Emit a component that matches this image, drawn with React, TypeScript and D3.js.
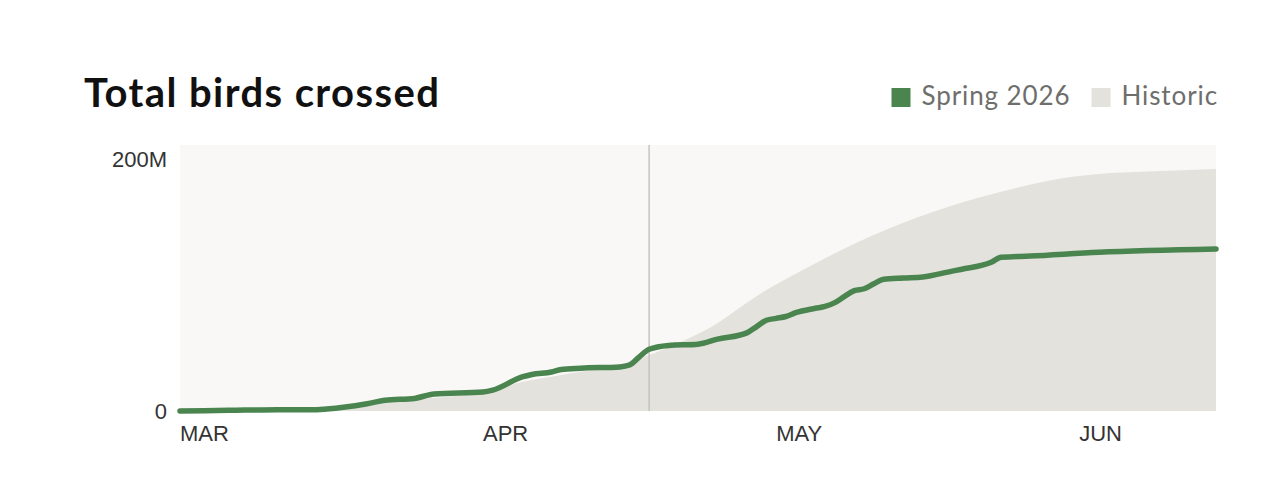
import React, { useRef, useEffect } from 'react';
import * as d3 from 'd3';

// Spring 2026 cumulative birds (millions)
const springDates = [
  '2026-03-01', '2026-03-06', '2026-03-11', '2026-03-15', '2026-03-16', '2026-03-20',
  '2026-03-22', '2026-03-25', '2026-03-27', '2026-04-01', '2026-04-02', '2026-04-05',
  '2026-04-06', '2026-04-08', '2026-04-09', '2026-04-11', '2026-04-15', '2026-04-16',
  '2026-04-17', '2026-04-18', '2026-04-20', '2026-04-23', '2026-04-25', '2026-04-28',
  '2026-04-29', '2026-04-30', '2026-05-01', '2026-05-02', '2026-05-03', '2026-05-05',
  '2026-05-06', '2026-05-07', '2026-05-08', '2026-05-09', '2026-05-10', '2026-05-11',
  '2026-05-12', '2026-05-14', '2026-05-16', '2026-05-19', '2026-05-20', '2026-05-23',
  '2026-05-24', '2026-05-27', '2026-06-03', '2026-06-15',
];
const springValues = [
  0, 0.5, 1, 1, 1.5, 5.5,
  8.5, 10, 13.5, 15, 16.5, 27,
  29, 31, 33, 34, 35, 36.5,
  43, 49, 52, 53, 57, 62,
  67, 72, 73.5, 75, 78, 81.5,
  83, 86, 91, 95.5, 97, 101,
  104.5, 105.5, 106.3, 111, 112.5, 118,
  122, 123, 126, 128.6,
];

// Historic average cumulative birds (millions)
const historicDates = [
  '2026-03-01', '2026-03-11', '2026-03-16', '2026-03-23', '2026-04-01', '2026-04-05',
  '2026-04-09', '2026-04-16', '2026-04-21', '2026-04-24', '2026-04-28', '2026-04-30',
  '2026-05-03', '2026-05-12', '2026-05-19', '2026-05-24', '2026-05-29', '2026-06-03',
  '2026-06-08', '2026-06-15',
];
const historicValues = [
  0, 0.5, 2, 8, 15, 23,
  28.5, 39, 54, 65, 86, 96,
  109, 143, 163, 174, 183, 188,
  190, 192,
];

const monthTicks = ['2026-03-01', '2026-04-01', '2026-05-01', '2026-06-01'];
const monthLabels = ['MAR', 'APR', 'MAY', 'JUN'];
const yTicks = [0, 200];
const yTickLabels = ['0', '200M'];
const domainStart = '2026-03-01';
const domainEnd = '2026-06-15';
const todayDate = '2026-04-18';

const legendItems = ['Spring 2026', 'Historic'];

const GREEN = '#4a854f';
const HISTORIC = '#e3e2dd';
const PLOT_BG = '#f9f8f6';

type Point = { date: Date; value: number };

const App: React.FC = () => {
  const svgRef = useRef<SVGSVGElement>(null);
  const width = 1280;
  const height = 489;

  useEffect(() => {
    document.body.style.margin = '0';
    if (!svgRef.current) return;

    const svg = d3.select(svgRef.current);
    svg.selectAll('*').remove();

    const parse = d3.utcParse('%Y-%m-%d');
    const spring: Point[] = springDates.map((d, i) => ({ date: parse(d)!, value: springValues[i] }));
    const historic: Point[] = historicDates.map((d, i) => ({ date: parse(d)!, value: historicValues[i] }));

    const margin = { left: 180, right: 64, top: 145, bottom: 78 };
    const xScale = d3.scaleUtc()
      .domain([parse(domainStart)!, parse(domainEnd)!])
      .range([margin.left, width - margin.right]);

    // 200M tick sits a bit below the top of the plot background
    const yScale = d3.scaleLinear()
      .domain([0, 200])
      .range([height - margin.bottom, margin.top + 14]);

    const plotTop = margin.top;
    const plotBottom = yScale(0);

    // Plot background
    svg.append('rect')
      .attr('x', xScale.range()[0])
      .attr('y', plotTop)
      .attr('width', xScale.range()[1] - xScale.range()[0])
      .attr('height', plotBottom - plotTop)
      .attr('fill', PLOT_BG);

    // Historic area
    const area = d3.area<Point>()
      .x(d => xScale(d.date))
      .y0(plotBottom)
      .y1(d => yScale(d.value))
      .curve(d3.curveMonotoneX);

    svg.append('path')
      .datum(historic)
      .attr('fill', HISTORIC)
      .attr('d', area);

    // Today marker
    const tx = xScale(parse(todayDate)!);
    svg.append('line')
      .attr('x1', tx)
      .attr('x2', tx)
      .attr('y1', plotTop)
      .attr('y2', plotBottom)
      .attr('stroke', '#c4c3be')
      .attr('stroke-width', 1.5);

    // Spring 2026 line
    const line = d3.line<Point>()
      .x(d => xScale(d.date))
      .y(d => yScale(d.value))
      .curve(d3.curveMonotoneX);

    svg.append('path')
      .datum(spring)
      .attr('fill', 'none')
      .attr('stroke', GREEN)
      .attr('stroke-width', 5.5)
      .attr('stroke-linejoin', 'round')
      .attr('stroke-linecap', 'round')
      .attr('d', line);

    // Y tick labels
    svg.append('g')
      .selectAll('text')
      .data(yTicks)
      .join('text')
      .attr('x', margin.left - 13)
      .attr('y', d => yScale(d))
      .attr('dy', '0.35em')
      .attr('text-anchor', 'end')
      .attr('font-family', '"Liberation Sans", Arial, sans-serif')
      .attr('font-size', 22)
      .attr('fill', '#333')
      .text((d, i) => yTickLabels[i]);

    // X month labels, left-aligned on the tick
    svg.append('g')
      .selectAll('text')
      .data(monthTicks)
      .join('text')
      .attr('x', d => xScale(parse(d)!))
      .attr('y', plotBottom + 30)
      .attr('font-family', '"Liberation Sans", Arial, sans-serif')
      .attr('font-size', 22)
      .attr('fill', '#333')
      .text((d, i) => monthLabels[i]);

    // Title
    svg.append('text')
      .attr('x', 84)
      .attr('y', 107)
      .attr('font-family', 'Lato, "Noto Sans", sans-serif')
      .attr('font-weight', 'bold')
      .attr('font-size', 40)
      .attr('letter-spacing', 1.4)
      .attr('fill', '#111')
      .text('Total birds crossed');

    // Legend, right-aligned
    const legend = svg.append('g');
    const colors = [GREEN, HISTORIC];
    let cursor = width - 62;
    for (let i = legendItems.length - 1; i >= 0; i--) {
      const t = legend.append('text')
        .attr('x', cursor)
        .attr('y', 105)
        .attr('text-anchor', 'end')
        .attr('font-family', 'Lato, "Noto Sans", sans-serif')
        .attr('font-size', 26)
        .attr('letter-spacing', 0.9)
        .attr('fill', '#6e6e6c')
        .text(legendItems[i]);
      const w = (t.node() as SVGTextElement).getComputedTextLength();
      legend.append('rect')
        .attr('x', cursor - w - 30)
        .attr('y', 88)
        .attr('width', 19)
        .attr('height', 19)
        .attr('fill', colors[i]);
      cursor = cursor - w - 51;
    }
  }, []);

  return (
    <svg
      ref={svgRef}
      width={width}
      height={height}
      style={{ display: 'block', background: '#fff' }}
    />
  );
};

export default App;
